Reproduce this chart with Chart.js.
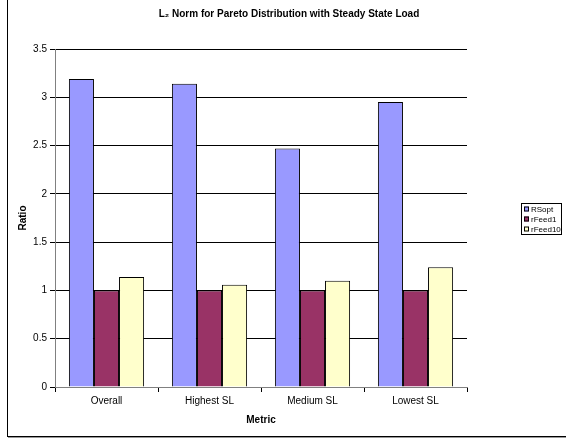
<!DOCTYPE html>
<html>
<head>
<meta charset="utf-8">
<script src="https://cdn.jsdelivr.net/npm/chart.js@4/dist/chart.umd.min.js"></script>
<style>
    html, body { margin: 0; padding: 0; background: #fff; }
    #wrap { position: relative; width: 566px; height: 440px; overflow: hidden; }
    #frame { position: absolute; left: 7px; top: -10px; width: 600px; height: 446px;
             border-left: 1px solid #000; border-bottom: 1px solid #000;
             box-shadow: 1px 1px 0 #999; pointer-events: none; }
</style>
</head>
<body>
<div id="wrap">
    <canvas id="chart" width="566" height="440"></canvas>
    <div id="frame"></div>
</div>
<script>
// Data
const categories = ['Overall', 'Highest SL', 'Medium SL', 'Lowest SL'];
const rsopt = [3.19, 3.14, 2.47, 2.95];
const rfeed1 = [1.0, 1.0, 1.0, 1.0];
const rfeed10 = [1.14, 1.06, 1.10, 1.24];
const yTicks = [0, 0.5, 1, 1.5, 2, 2.5, 3, 3.5];

const FONT = 'Arial, "Liberation Sans", Helvetica, sans-serif';

// Excel centres the title over the whole chart, not just the plot
const shiftTitle = {
    id: 'shiftTitle',
    afterLayout(chart) {
        const t = chart.titleBlock;
        if (t) { t.left = 12; t.right = 566; }
    }
};

// Small boxed legend to the right of the plot, like the Excel original
const boxLegend = {
    id: 'boxLegend',
    afterDraw(chart) {
        const c = chart.ctx;
        const area = chart.chartArea;
        const x = area.right + 54, y = 203, w = 40, h = 31;
        c.save();
        c.fillStyle = '#fff';
        c.fillRect(x, y, w, h);
        c.strokeStyle = '#000';
        c.lineWidth = 1;
        c.strokeRect(x + 0.5, y + 0.5, w, h);
        c.font = '8px ' + FONT;
        c.textBaseline = 'middle';
        chart.data.datasets.forEach((ds, i) => {
            const ry = y + 6 + i * 10;
            c.fillStyle = ds.backgroundColor;
            c.fillRect(x + 3, ry - 2.5, 5, 5);
            c.strokeStyle = '#000';
            c.strokeRect(x + 3.5, ry - 2, 4, 4);
            c.fillStyle = '#000';
            c.fillText(ds.label, x + 10, ry + 0.5);
        });
        c.restore();
    }
};

const ctx = document.getElementById('chart').getContext('2d');
new Chart(ctx, {
    type: 'bar',
    data: {
        labels: categories,
        datasets: [
            { label: 'RSopt', data: rsopt, backgroundColor: '#9999FF' },
            { label: 'rFeed1', data: rfeed1, backgroundColor: '#993366' },
            { label: 'rFeed10', data: rfeed10, backgroundColor: '#FFFFCC' }
        ]
    },
    options: {
        responsive: false,
        animation: false,
        layout: { padding: { left: 7, right: 99, top: 0, bottom: 0 } },
        datasets: {
            bar: {
                borderColor: '#000',
                borderWidth: 1,
                categoryPercentage: 0.73,
                barPercentage: 1
            }
        },
        scales: {
            x: {
                afterFit: (scale) => { scale.height = 53; },
                grid: { drawOnChartArea: false, drawTicks: true, tickLength: 5, color: '#000', offset: true },
                border: { color: '#808080', width: 1 },
                ticks: { color: '#000', font: { family: FONT, size: 10 }, padding: 3 },
                title: { display: true, text: 'Metric', color: '#000', font: { family: FONT, size: 10, weight: 'bold' }, padding: { top: 4, bottom: 14 } }
            },
            y: {
                min: 0,
                max: 3.5,
                afterFit: (scale) => { scale.width = 48; },
                afterBuildTicks: (scale) => { scale.ticks = yTicks.map(v => ({ value: v })); },
                grid: { color: '#000', lineWidth: 1, tickLength: 5 },
                border: { color: '#808080', width: 1 },
                ticks: { color: '#000', font: { family: FONT, size: 10 }, padding: 3, callback: (v) => String(v) },
                title: { display: true, text: 'Ratio', color: '#000', font: { family: FONT, size: 10, weight: 'bold' }, padding: { top: 10, bottom: 0 } }
            }
        },
        plugins: {
            legend: { display: false },
            tooltip: { enabled: false },
            title: {
                display: true,
                text: 'L\u2082 Norm for Pareto Distribution with Steady State Load',
                color: '#000',
                font: { family: FONT, size: 10, weight: 'bold' },
                padding: { top: 8, bottom: 29 }
            }
        }
    },
    plugins: [shiftTitle, boxLegend]
});
</script>
</body>
</html>
